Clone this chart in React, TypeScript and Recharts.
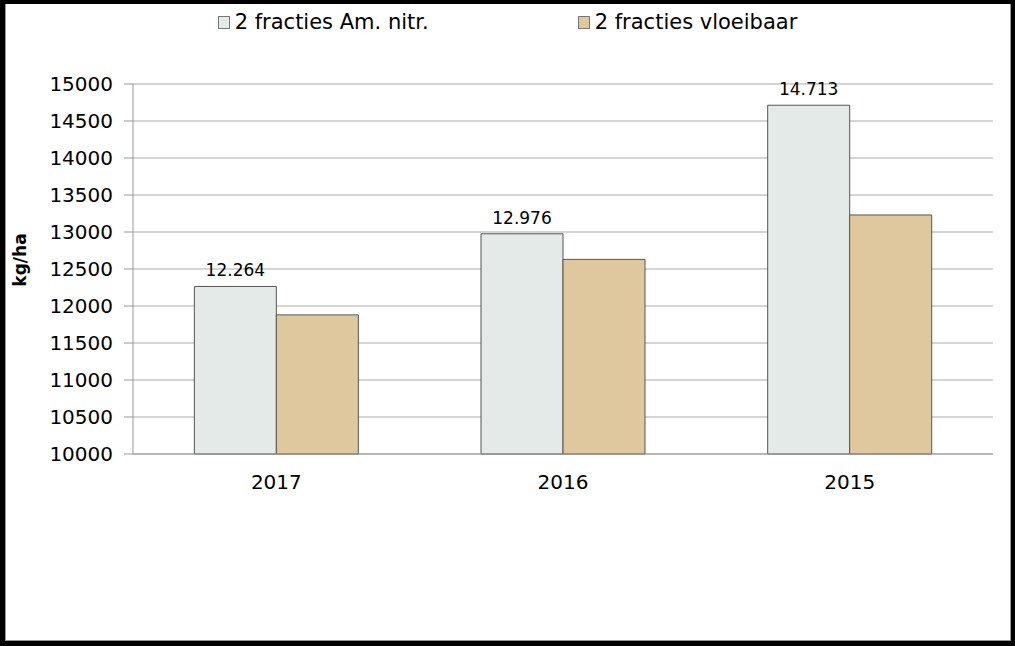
import React from 'react';
import { BarChart, Bar, XAxis, YAxis, CartesianGrid, Legend, LabelList } from 'recharts';

const categories = ['2017', '2016', '2015'];
const amNitr = [12264, 12976, 14713];
const vloeibaar = [11880, 12630, 13230];
const yTicks = [10000, 10500, 11000, 11500, 12000, 12500, 13000, 13500, 14000, 14500, 15000];
const boundaryTicks = [0, 1, 2, 3];
const seriesNames = ['2 fracties Am. nitr.', '2 fracties vloeibaar'];
const seriesColors = ['#E3EAE7', '#E0C89E'];
const yLabel = 'kg/ha';

const data = categories.map((c, i) => ({ year: c, a: amNitr[i], b: vloeibaar[i] }));

const FONT = '"DejaVu Sans", Verdana, sans-serif';

const fmt = (v: number) => {
  const th = Math.floor(v / 1000);
  const rest = String(v % 1000).padStart(3, '0');
  return `${th}.${rest}`;
};

const LegendContent = () => (
  <div style={{ display: 'flex', justifyContent: 'center', gap: 149, fontFamily: FONT, fontSize: 21, color: '#000' }}>
    {seriesNames.map((n, i) => (
      <div key={n} style={{ display: 'flex', alignItems: 'center' }}>
        <span style={{ display: 'inline-block', width: 10, height: 11, background: seriesColors[i], border: '1px solid #777', marginRight: 5 }} />
        <span>{n}</span>
      </div>
    ))}
  </div>
);

const YLabel = (props: any) => {
  const vb = props.viewBox || { x: 53, y: 84, width: 80, height: 370 };
  const x = vb.x - 33;
  const y = vb.y + vb.height / 2 - 9;
  return (
    <text
      x={x}
      y={y}
      transform={`rotate(-90 ${x} ${y})`}
      textAnchor="middle"
      dominantBaseline="central"
      style={{ fontFamily: FONT, fontWeight: 'bold', fontSize: 17, fill: '#000' }}
    >
      {yLabel}
    </text>
  );
};

export default function App() {
  return (
    <div style={{ position: 'absolute', left: 0, top: 0, width: 1015, height: 646, background: '#000' }}>
      <div style={{ position: 'absolute', left: 5, top: 4, width: 1006, height: 637, background: '#fff', boxSizing: 'border-box', borderLeft: '1px solid #999', borderRight: '1px solid #999', borderBottom: '1px solid #999' }} />
      <div style={{ position: 'absolute', left: 0, top: 0 }}>
        <BarChart
          width={1015}
          height={646}
          data={data}
          margin={{ top: 84, right: 22, bottom: 152, left: 53 }}
          barCategoryGap="21.4%"
          barGap={0}
        >
          <CartesianGrid horizontal vertical={false} stroke="#ababab" strokeWidth={1} />
          <XAxis
            xAxisId="bnd"
            type="number"
            domain={[0, 3]}
            ticks={boundaryTicks}
            tickFormatter={() => ''}
            tickSize={8}
            tickLine={{ stroke: '#999' }}
            height={0}
            axisLine={false}
            interval={0}
          />
          <XAxis
            dataKey="year"
            height={40}
            tickLine={false}
            tickSize={0}
            tickMargin={21}
            axisLine={{ stroke: '#999' }}
            tick={{ fill: '#000', fontSize: 20, fontFamily: FONT }}
          />
          <YAxis
            domain={[10000, 15000]}
            ticks={yTicks}
            width={80}
            tickSize={9}
            tickMargin={11}
            interval={0}
            axisLine={{ stroke: '#999' }}
            tickLine={{ stroke: '#999' }}
            tick={{ fill: '#000', fontSize: 20, fontFamily: FONT }}
            label={{ value: yLabel, position: 'insideLeft', content: <YLabel /> }}
          />
          <Legend
            layout="horizontal"
            verticalAlign="middle"
            align="center"
            wrapperStyle={{ top: 10, left: 0, width: 1015 }}
            content={<LegendContent />}
          />
          <Bar dataKey="a" name={seriesNames[0]} fill={seriesColors[0]} stroke="#555" strokeWidth={1} isAnimationActive={false}>
            <LabelList dataKey="a" position="top" offset={10} formatter={(v: number) => fmt(v)} style={{ fontFamily: FONT, fontSize: 17, fill: '#000' }} />
          </Bar>
          <Bar dataKey="b" name={seriesNames[1]} fill={seriesColors[1]} stroke="#555" strokeWidth={1} isAnimationActive={false} />
        </BarChart>
      </div>
    </div>
  );
}
